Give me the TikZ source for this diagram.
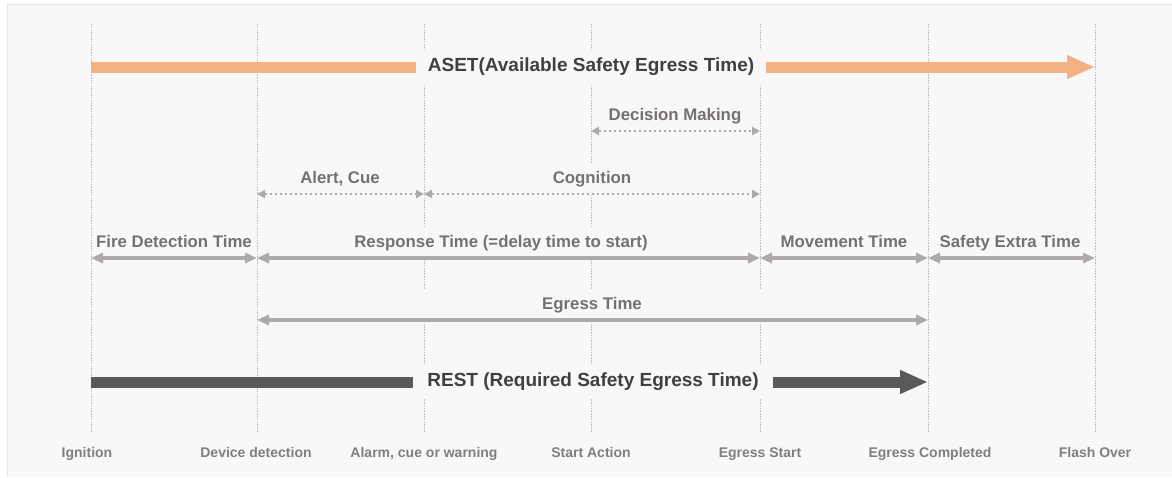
\documentclass[tikz,border=0pt]{standalone}
\usepackage{fontspec}
\setmainfont{Liberation Sans}
\usetikzlibrary{arrows.meta,positioning}

\definecolor{panel}{HTML}{F8F8F8}
\definecolor{panelline}{HTML}{E6E6E6}
\definecolor{tick}{HTML}{BFBFBF}
\definecolor{asetc}{HTML}{F4B183}
\definecolor{restc}{HTML}{595959}
\definecolor{headtxt}{HTML}{404040}
\definecolor{phasetxt}{HTML}{767171}
\definecolor{phasearr}{HTML}{AEAAAA}
\definecolor{pointtxt}{HTML}{7F7F7F}

\tikzset{
	tline/.style = {draw = tick, line width = 0.8pt, dash pattern = on 1.6pt off 1.2pt},
	headlbl/.style = {text = headtxt, fill = panel, font = \fontsize{19}{21}\selectfont\bfseries,
		inner xsep = 12pt, text height = 13.5pt, text depth = 4pt, minimum height = 34pt},
	phase/.style = {text = phasetxt, fill = panel, font = \fontsize{16.8}{19}\selectfont\bfseries,
		inner xsep = 2pt, text height = 12pt, text depth = 3.5pt, minimum height = 30pt, anchor = south},
	point/.style = {text = pointtxt, font = \fontsize{14}{16}\selectfont\bfseries,
		text height = 10pt, text depth = 3pt},
	span/.style = {draw = phasearr, line width = 4pt,
		{Triangle[length = 12pt, width = 10pt]}-{Triangle[length = 12pt, width = 10pt]}},
	cue/.style = {draw = phasearr, line width = 2pt, dash pattern = on 2pt off 3pt,
		{Triangle[length = 8pt, width = 8pt]}-{Triangle[length = 8pt, width = 8pt]}},
	bar/.style = {line width = 11pt, line cap = butt},
	bartip/.style = {bar, -{Triangle[length = 28pt, width = 22pt]}}
}

\begin{document}
\begin{tikzpicture}[x = 1pt, y = -1pt]
	\useasboundingbox (0,0) rectangle (1172,477);
	\fill[panel] (7,4) rectangle (1172,477);
	\draw[panelline] (7,477) -- (7,4) -- (1172,4);

	% time points and their guide lines
	\foreach \x/\n in {91/ign, 257/dev, 424/alarm, 591/act, 760/egs, 928/egc, 1095/flash}{
		\coordinate (\n-top) at (\x,24);
		\coordinate (\n-bot) at (\x,432);
		\draw[tline] (\n-top) -- (\n-bot);
	}
	\node[point] (ign) at (87,454) {Ignition};
	\node[point] (dev) at (256,454) {Device detection};
	\node[point] (alarm) at (424,454) {Alarm, cue or warning};
	\node[point] (act) at (591,454) {Start Action};
	\node[point] (egs) at (760,454) {Egress Start};
	\node[point] (egc) at (930,454) {Egress Completed};
	\node[point] (flash) at (1095,454) {Flash Over};

	% ASET
	\node[headlbl] (aset) at (591,67) {ASET(Available Safety Egress Time)};
	\draw[bar, asetc] (ign-top |- aset.center) -- (aset.west);
	\draw[bartip, asetc] (aset.east) -- (flash-top |- aset.center);

	% phases
	\node[phase] (decide) at (675,131) {Decision Making};
	\draw[cue] (act-top |- decide.south) -- (egs-top |- decide.south);

	\node[phase] (alert) at (340,194) {Alert, Cue};
	\node[phase] (cognit) at (592,194) {Cognition};
	\draw[cue] (dev-top |- alert.south) -- (alarm-top |- alert.south);
	\draw[cue] (alarm-top |- cognit.south) -- (egs-top |- cognit.south);

	\node[phase] (detect) at (174,258) {Fire Detection Time};
	\node[phase] (respond) at (501,258) {Response Time (=delay time to start)};
	\node[phase] (move) at (844,258) {Movement Time};
	\node[phase] (extra) at (1010,258) {Safety Extra Time};
	\draw[span] (ign-top |- detect.south) -- (dev-top |- detect.south);
	\draw[span] (dev-top |- respond.south) -- (egs-top |- respond.south);
	\draw[span] (egs-top |- move.south) -- (egc-top |- move.south);
	\draw[span] (egc-top |- extra.south) -- (flash-top |- extra.south);

	\node[phase, minimum width = 345pt] (egress) at (592,320) {Egress Time};
	\draw[span] (dev-top |- egress.south) -- (egc-top |- egress.south);

	% REST
	\node[headlbl, inner xsep = 14pt] (rest) at (593,382) {REST (Required Safety Egress Time)};
	\draw[bar, restc] (ign-top |- rest.center) -- (rest.west);
	\draw[bartip, restc] (rest.east) -- (egc-top |- rest.center);
\end{tikzpicture}
\end{document}
